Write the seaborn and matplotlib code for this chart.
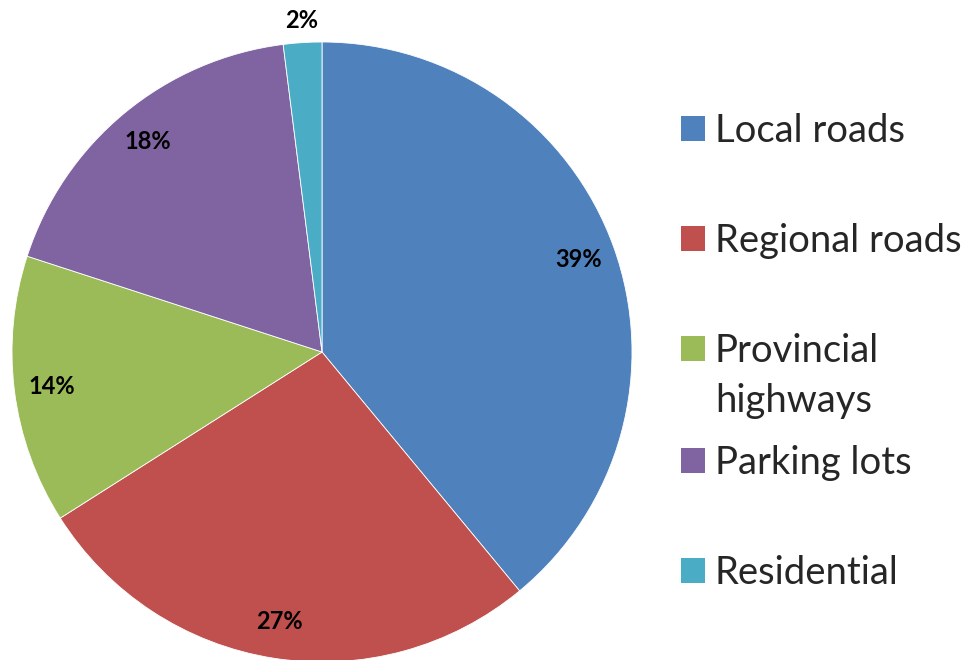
import numpy as np
import seaborn as sns
import matplotlib.pyplot as plt
from matplotlib.patches import Patch

sns.set_theme(style='white')
plt.rcParams['font.family'] = ['Lato', 'DejaVu Sans']

categories = ['Local roads', 'Regional roads', 'Provincial\nhighways', 'Parking lots', 'Residential']
shares = [39, 27, 14, 18, 2]
colors = sns.color_palette(['#4F81BD', '#C0504D', '#9BBB59', '#8064A2', '#4BACC6'])

fig = plt.figure(figsize=(9.79, 6.60), dpi=100)
W, H = 979, 660
cx, cy, r = 322, 352, 310
ax = fig.add_axes([(cx - r) / W, (H - cy - r) / H, 2 * r / W, 2 * r / H])

wedges, texts, autotexts = ax.pie(
    shares, colors=colors, startangle=90, counterclock=False,
    autopct=lambda p: '{:.0f}%'.format(p), pctdistance=0.88,
    wedgeprops=dict(edgecolor='white', linewidth=0.6),
    textprops=dict(fontsize=17, fontweight='bold', color='black'))
ax.set_xlim(-1, 1)
ax.set_ylim(-1, 1)
ax.set_aspect('equal')
ax.axis('off')

# small slice label sits outside the pie
w = wedges[-1]
ang = np.deg2rad((w.theta1 + w.theta2) / 2)
autotexts[-1].set_position((1.07 * np.cos(ang), 1.07 * np.sin(ang)))
for t in autotexts:
    t.set_clip_on(False)

# legend entries, spaced like the original; wrapped lines continue below the first
legend_y = [130, 240, 350, 462, 572]
line_gap = 50
fs = 27.5
for lab, col, y in zip(categories, colors, legend_y):
    for k, line in enumerate(lab.split('\n')):
        patch = Patch(facecolor=col, edgecolor='none', alpha=1 if k == 0 else 0)
        fig.legend(handles=[patch], labels=[line],
                   loc='upper left', bbox_to_anchor=(681 / W, (H - y - k * line_gap + 17) / H),
                   frameon=False, fontsize=fs, borderpad=0, borderaxespad=0,
                   handlelength=0.63, handleheight=0.63, handletextpad=0.26)

fig.savefig('out.png', dpi=100)
